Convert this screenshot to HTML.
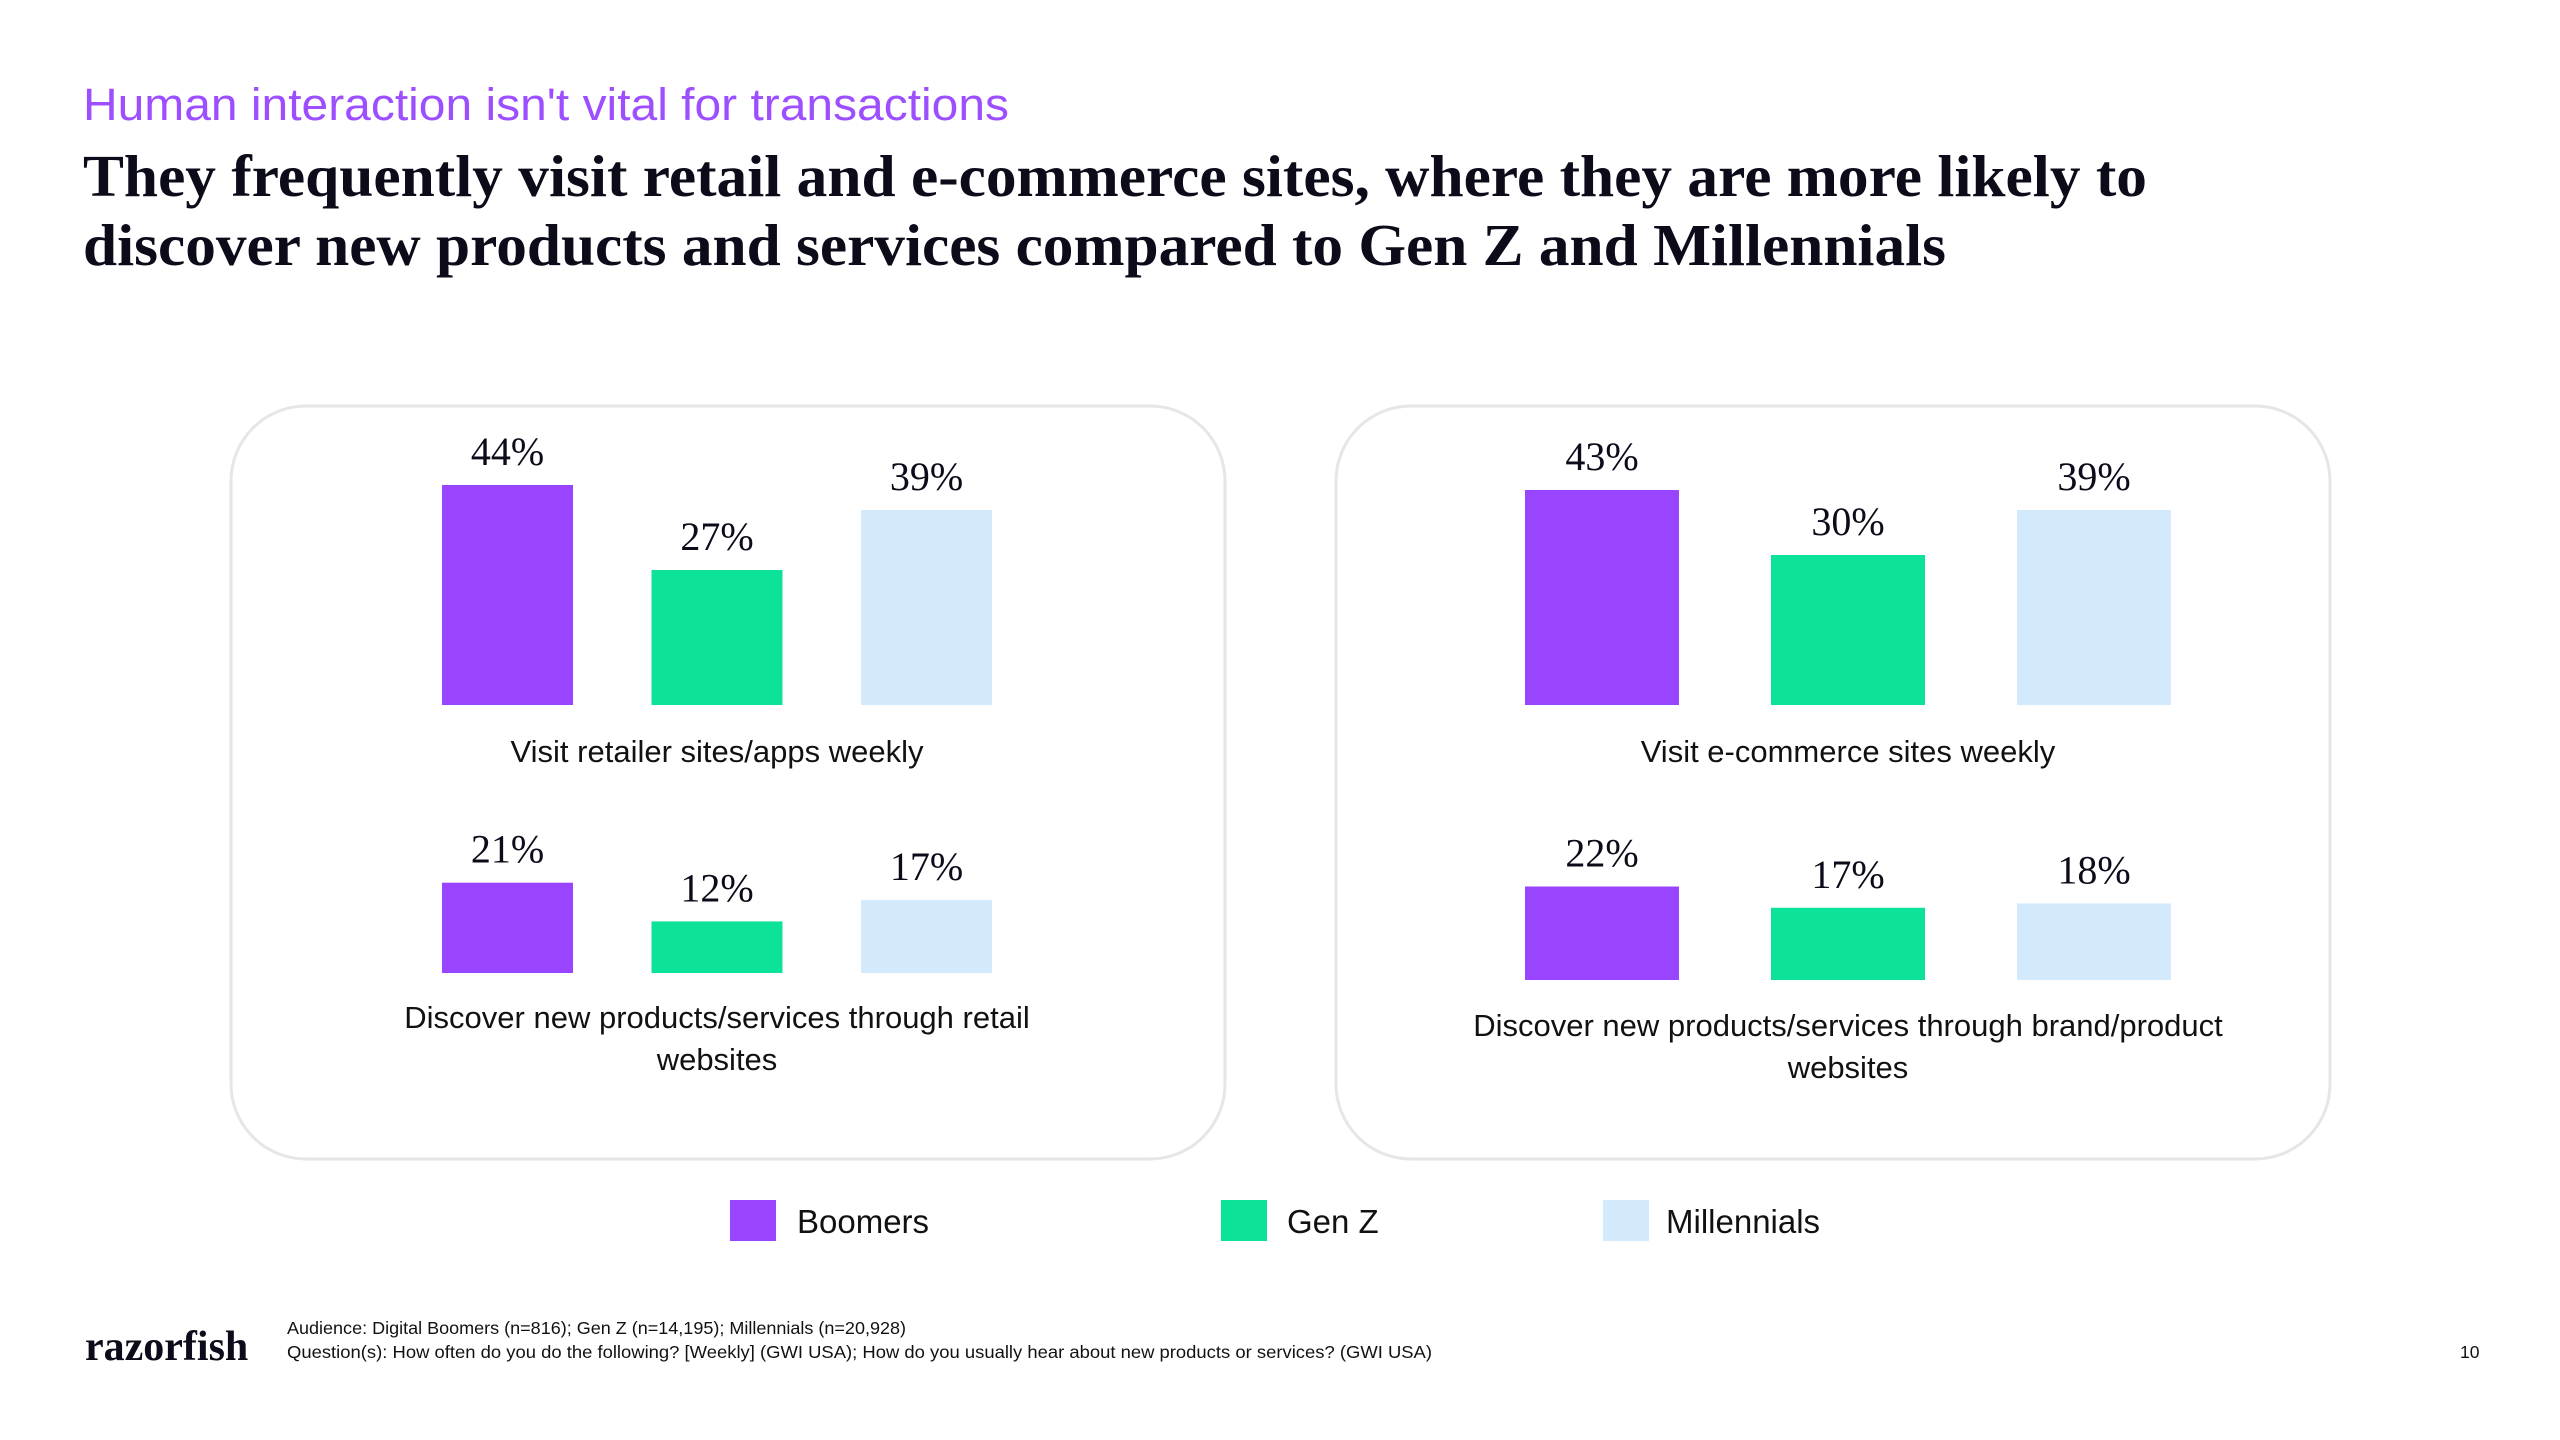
<!DOCTYPE html>
<html><head><meta charset="utf-8"><style>
html,body{margin:0;padding:0;background:#fff;width:2560px;height:1440px;overflow:hidden}
svg{display:block}
.sans{font-family:"Liberation Sans",sans-serif}
.serif{font-family:"Liberation Serif",serif}
</style></head><body>
<svg id="root" width="2560" height="1440" viewBox="0 0 2560 1440">
<text x="83" y="120" class="sans" font-size="45" fill="#9d4fff" textLength="926" lengthAdjust="spacingAndGlyphs">Human interaction isn't vital for transactions</text>
<text class="serif" font-weight="bold" font-size="59" fill="#0b0b1a"><tspan x="83" y="196" textLength="2064" lengthAdjust="spacingAndGlyphs">They frequently visit retail and e-commerce sites, where they are more likely to</tspan><tspan x="83" y="265" textLength="1863" lengthAdjust="spacingAndGlyphs">discover new products and services compared to Gen Z and Millennials</tspan></text>
<rect x="231" y="406" width="994" height="753" rx="75" fill="#fff" stroke="#e6e6e6" stroke-width="3"/>
<rect x="1336" y="406" width="994" height="753" rx="75" fill="#fff" stroke="#e6e6e6" stroke-width="3"/>
<g id="charts"></g>
<g>
<rect x="730" y="1200" width="46" height="41" fill="#9945ff"/>
<text x="797" y="1233" class="sans" font-size="33" fill="#111">Boomers</text>
<rect x="1221" y="1200" width="46" height="41" fill="#0de398"/>
<text x="1287" y="1233" class="sans" font-size="33" fill="#111">Gen Z</text>
<rect x="1603" y="1200" width="46" height="41" fill="#d2eafb"/>
<text x="1666" y="1233" class="sans" font-size="33" fill="#111">Millennials</text>
</g>
<text x="85" y="1360" class="serif" font-weight="bold" font-size="42" fill="#0b0b1a">razorfish</text>
<text x="287" y="1334" class="sans" font-size="17.5" fill="#111" textLength="619" lengthAdjust="spacingAndGlyphs">Audience: Digital Boomers (n=816); Gen Z (n=14,195); Millennials (n=20,928)</text>
<text x="287" y="1358" class="sans" font-size="17.5" fill="#111" textLength="1145" lengthAdjust="spacingAndGlyphs">Question(s): How often do you do the following? [Weekly] (GWI USA); How do you usually hear about new products or services? (GWI USA)</text>
<text x="2460" y="1358" class="sans" font-size="17.5" fill="#111">10</text>
</svg>
<script>
var categories = ["Visit retailer sites/apps weekly", "Discover new products/services through retail websites", "Visit e-commerce sites weekly", "Discover new products/services through brand/product websites"];
var seriesNames = ["Boomers", "Gen Z", "Millennials"];
var boomers = [44, 21, 43, 22];
var genZ = [27, 12, 30, 17];
var millennials = [39, 17, 39, 18];
var colors = ["#9945ff", "#0de398", "#d2eafb"];
var labelLines = [["Visit retailer sites/apps weekly"], ["Discover new products/services through retail", "websites"], ["Visit e-commerce sites weekly"], ["Discover new products/services through brand/product", "websites"]];
var layouts = [
 {x0:442, step:209.5, w:131, base:705, k:5, ly:[762]},
 {x0:442, step:209.5, w:131, base:973, k:4.3, ly:[1028,1070]},
 {x0:1525, step:246, w:154, base:705, k:5, ly:[762]},
 {x0:1525, step:246, w:154, base:980, k:4.25, ly:[1036,1078]}
];
var NS = "http://www.w3.org/2000/svg";
var g = document.getElementById("charts");
function xPos(L, i){ return L.x0 + i*L.step; }
function yPos(L, v){ return L.base - v*L.k; }
var series = [boomers, genZ, millennials];
for (var c = 0; c < categories.length; c++) {
  var L = layouts[c];
  for (var s = 0; s < 3; s++) {
    var v = series[s][c];
    var r = document.createElementNS(NS, "rect");
    r.setAttribute("x", xPos(L, s));
    r.setAttribute("y", yPos(L, v));
    r.setAttribute("width", L.w);
    r.setAttribute("height", L.base - yPos(L, v));
    r.setAttribute("fill", colors[s]);
    
    
    g.appendChild(r);
    var t = document.createElementNS(NS, "text");
    t.setAttribute("x", xPos(L, s) + L.w/2);
    t.setAttribute("y", yPos(L, v) - 20);
    t.setAttribute("text-anchor", "middle");
    t.setAttribute("class", "serif");
    t.setAttribute("font-size", "40");
    t.setAttribute("fill", "#0b0b1a");
    t.textContent = v + "%";
    
    
    g.appendChild(t);
  }
  var cx = xPos(L, 1) + L.w/2;
  for (var l = 0; l < labelLines[c].length; l++) {
    var ct = document.createElementNS(NS, "text");
    ct.setAttribute("x", cx);
    ct.setAttribute("y", L.ly[l]);
    ct.setAttribute("text-anchor", "middle");
    ct.setAttribute("class", "sans");
    ct.setAttribute("font-size", "31");
    ct.setAttribute("fill", "#111");
    ct.textContent = labelLines[c][l];
    
    
    g.appendChild(ct);
  }
}
</script>
</body></html>
